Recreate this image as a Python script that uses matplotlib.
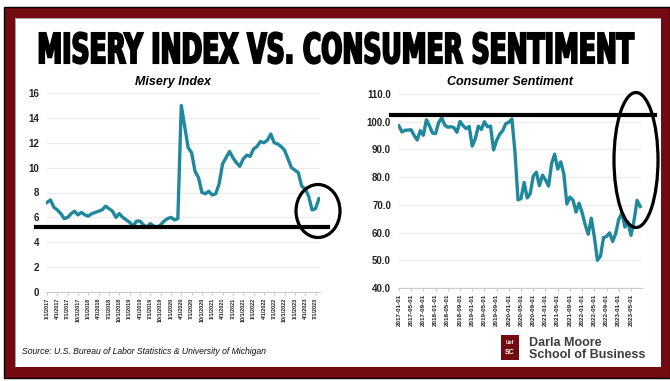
import matplotlib
matplotlib.use('Agg')
import matplotlib.pyplot as plt
from matplotlib.patches import Rectangle, Ellipse
from matplotlib import patheffects
from matplotlib.transforms import Affine2D
import pandas as pd

plt.rcParams['font.family'] = ['Liberation Sans', 'DejaVu Sans']

TEAL = '#1f889c'
MAROON = '#730a12'
GRID = '#ececec'

# monthly observations, Jan 2017 - Aug 2023
months = pd.date_range('2017-01-01', '2023-08-01', freq='MS')

misery = [
    7.2, 7.4, 6.8, 6.6, 6.3, 5.9, 6.0, 6.3, 6.5, 6.2, 6.4, 6.2,        # 2017
    6.1, 6.3, 6.4, 6.5, 6.6, 6.9, 6.7, 6.5, 6.0, 6.3, 6.0, 5.8,        # 2018
    5.6, 5.3, 5.7, 5.7, 5.4, 5.2, 5.5, 5.3, 5.2, 5.4, 5.7, 5.9,        # 2019
    6.0, 5.8, 5.9, 15.0, 13.3, 11.6, 11.2, 9.7, 9.2, 8.0, 7.9, 8.1,    # 2020
    7.8, 7.9, 8.7, 10.3, 10.8, 11.3, 10.8, 10.4, 10.1, 10.7, 11.0, 10.9,  # 2021
    11.5, 11.7, 12.1, 12.0, 12.2, 12.7, 12.0, 11.9, 11.7, 11.4, 10.7, 10.0,  # 2022
    9.8, 9.6, 8.5, 8.3, 7.7, 6.6, 6.7, 7.5,                            # 2023
]

sentiment = [
    98.5, 96.3, 96.9, 97.0, 97.1, 95.0, 93.4, 96.8, 95.1, 100.7, 98.5, 95.9,
    95.7, 99.7, 101.4, 98.8, 98.0, 98.2, 97.9, 96.2, 100.1, 98.6, 97.5, 98.3,
    91.2, 93.8, 98.4, 97.2, 100.0, 98.2, 98.4, 89.8, 93.2, 95.5, 96.8, 99.3,
    99.8, 101.0, 89.1, 71.8, 72.3, 78.1, 72.5, 74.1, 80.4, 81.8, 76.9, 80.7,
    79.0, 76.8, 84.9, 88.3, 82.9, 85.5, 81.2, 70.3, 72.8, 71.7, 67.4, 70.6,
    67.2, 62.8, 59.4, 65.2, 58.4, 50.0, 51.5, 58.2, 58.6, 59.9, 56.8, 59.7,
    64.9, 67.0, 62.0, 63.7, 59.0, 64.4, 71.6, 69.4,
]

misery_ticks = list(range(0, len(months), 3))
misery_labels = [f'{months[i].month}/1/{months[i].year}' for i in misery_ticks]
sent_ticks = list(range(0, len(months), 4))
sent_labels = [months[i].strftime('%Y-%m-%d') for i in sent_ticks]

misery_floor = 5.2
sentiment_ceiling = 102.6

W, H = 670, 381
fig = plt.figure(figsize=(W / 100, H / 100), dpi=100)


class Stretched(patheffects.AbstractPathEffect):
    """Stretch glyphs vertically about the baseline and fatten them with a stroke."""

    def __init__(self, sy=1.0, stroke=1.5):
        super().__init__()
        self.sy = sy
        self.stroke = stroke

    def draw_path(self, renderer, gc, tpath, affine, rgbFace=None):
        aff = Affine2D().scale(1.0, self.sy) + affine
        gc0 = renderer.new_gc()
        gc0.copy_properties(gc)
        gc0.set_linewidth(self.stroke)
        gc0.set_foreground(rgbFace)
        gc0.set_joinstyle('miter')
        renderer.draw_path(gc0, tpath, aff, rgbFace)
        gc0.restore()


# background frame
bg = fig.add_axes([0, 0, 1, 1], zorder=0)
bg.set_xlim(0, W)
bg.set_ylim(H, 0)
bg.axis('off')
bg.add_patch(Rectangle((4, 7), 666, 371, facecolor=MAROON, edgecolor='black', lw=1.0))
bg.add_patch(Rectangle((15, 18), 646, 349, facecolor='#b0a0a0', edgecolor='none'))
bg.add_patch(Rectangle((16, 19), 645, 348, facecolor='white', edgecolor='none'))

# headline: sized to span 38..636 px, caps stretched to ~30 px tall
title = fig.text(0.5, 1 - 63 / H, 'MISERY INDEX VS. CONSUMER SENTIMENT',
                 ha='center', va='baseline', fontsize=20, fontweight='bold',
                 family='DejaVu Sans', color='black')
fig.canvas.draw()
fs = 20 * 595 / title.get_window_extent().width
title.set_fontsize(fs)
cap_px = 0.729 * fs * 100 / 72
title.set_path_effects([Stretched(sy=30 / cap_px, stroke=1.5)])


def px_axes(x0, x1, ytop, ybot):
    return fig.add_axes([x0 / W, 1 - ybot / H, (x1 - x0) / W, (ybot - ytop) / H], zorder=2)


def style(ax):
    ax.set_facecolor('none')
    for s in ('top', 'right', 'left'):
        ax.spines[s].set_visible(False)
    ax.spines['bottom'].set_color('#cccccc')
    ax.spines['bottom'].set_linewidth(0.8)
    ax.grid(axis='y', color=GRID, lw=0.8)
    ax.set_axisbelow(True)
    ax.tick_params(axis='y', length=0, pad=5, labelsize=7, labelcolor='#222222')
    ax.tick_params(axis='x', length=2.5, color='#cccccc', pad=1.5, labelcolor='#222222')
    for lab in ax.get_yticklabels():
        lab.set_fontweight('bold')


# left: Misery Index
ax1 = px_axes(46, 320, 93, 292)
ax1.plot(range(len(misery)), misery, color=TEAL, lw=2.4, solid_joinstyle='round', zorder=3)
ax1.set_ylim(0, 16)
ax1.set_yticks(range(0, 17, 2))
ax1.set_xlim(-0.3, 79.3)
ax1.set_xticks(misery_ticks)
ax1.set_xticklabels(misery_labels, rotation=90, fontsize=4.0, fontweight='bold')
style(ax1)
ax1.axhline(misery_floor, xmin=-0.036, xmax=1.029, color='black', lw=3.0, clip_on=False, zorder=4)
fig.text(173 / W, 1 - 82 / H, 'Misery Index', ha='center', va='center',
         fontsize=9, fontweight='bold', style='italic')

# right: Consumer Sentiment
ax2 = px_axes(398, 642, 94, 288)
ax2.plot(range(len(sentiment)), sentiment, color=TEAL, lw=2.4, solid_joinstyle='round', zorder=3)
ax2.set_ylim(40, 110)
ax2.set_yticks(range(40, 111, 10))
ax2.set_yticklabels([f'{v:.1f}' for v in range(40, 111, 10)])
ax2.set_xlim(-0.3, 79.6)
ax2.set_xticks(sent_ticks)
ax2.set_xticklabels(sent_labels, rotation=90, fontsize=4.5, fontweight='bold')
style(ax2)
ax2.axhline(sentiment_ceiling, xmin=-0.029, xmax=1.053, color='black', lw=3.0, clip_on=False, zorder=4)
fig.text(510 / W, 1 - 82 / H, 'Consumer Sentiment', ha='center', va='center',
         fontsize=9, fontweight='bold', style='italic')

# ellipses and footer on top
top = fig.add_axes([0, 0, 1, 1], zorder=5)
top.set_xlim(0, W)
top.set_ylim(H, 0)
top.axis('off')
top.patch.set_alpha(0)
top.add_patch(Ellipse((318, 211), 44, 53, fill=False, edgecolor='black', lw=2.3))
top.add_patch(Ellipse((636, 160), 44, 135, fill=False, edgecolor='black', lw=2.3))

top.text(22, 351, 'Source: U.S. Bureau of Labor Statistics & University of Michigan',
         ha='left', va='center', fontsize=6.2, style='italic', color='#111111')

top.add_patch(Rectangle((501, 335), 18, 25, facecolor=MAROON, edgecolor='none'))
top.text(510, 342, 'Uof', ha='center', va='center', fontsize=3.5,
         color='white', fontweight='bold')
top.text(510, 353, 'SC', ha='center', va='center', fontsize=5, color='white', fontweight='bold')
top.text(529, 343, 'Darla Moore', ha='left', va='center', fontsize=9,
         fontweight='bold', color='#3d3d3d')
top.text(529, 355.5, 'School of Business', ha='left', va='center', fontsize=9,
         fontweight='bold', color='#3d3d3d')

fig.savefig('out.png', dpi=100)
